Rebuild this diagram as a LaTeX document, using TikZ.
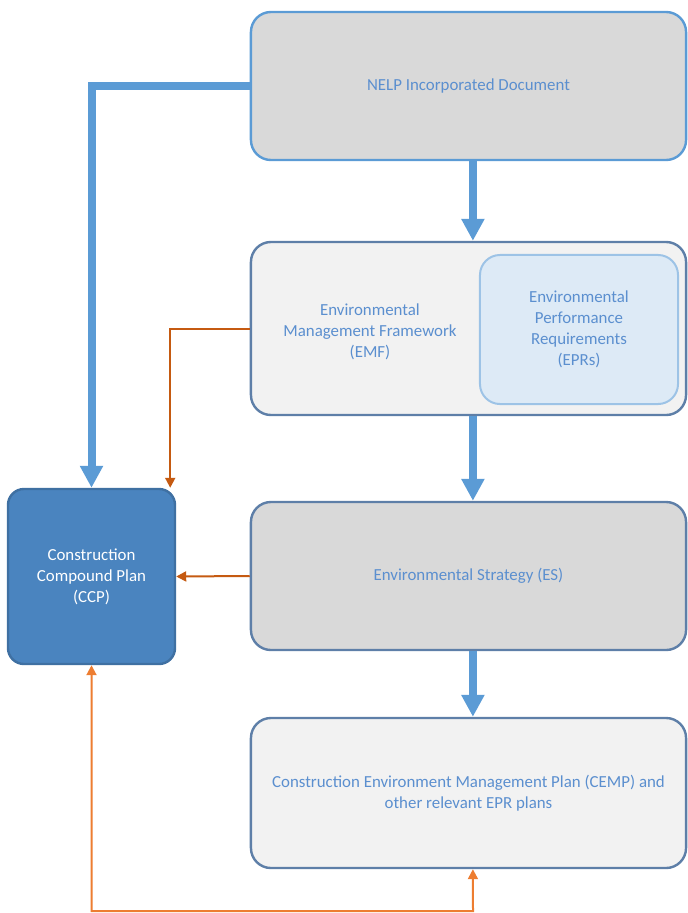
\documentclass[tikz,border=0pt]{standalone}
\usepackage{fontspec}
\setmainfont{Carlito}
\usepackage{xcolor}
\usetikzlibrary{arrows.meta,calc}
\definecolor{flowblue}{HTML}{5B9BD5}
\definecolor{textblue}{HTML}{5B8FCF}
\definecolor{edgeblue}{HTML}{5E7FA8}
\definecolor{ccpblue}{HTML}{4A84BF}
\definecolor{eprfill}{HTML}{DDEAF6}
\definecolor{eprline}{HTML}{9DC3E6}
\definecolor{darkorange}{HTML}{C55A11}
\definecolor{lightorange}{HTML}{ED7D31}
\tikzset{
  stage/.style={
    draw=edgeblue,
    line width=0.06cm,
    rounded corners=0.5cm,
    minimum width=10.875cm,
    align=center,
    text=textblue,
    font=\fontsize{12}{15}\selectfont
  },
  darkstage/.style={
    stage,
    fill=black!15
  },
  lightstage/.style={
    stage,
    fill=black!5
  },
  ccpbox/.style={
    draw=ccpblue!85!black,
    line width=0.06cm,
    fill=ccpblue,
    rounded corners=0.4cm,
    minimum width=4.175cm,
    minimum height=4.375cm,
    align=center,
    text=white,
    font=\fontsize{12}{15}\selectfont
  },
  bigflow/.style={
    draw=flowblue,
    line width=0.2cm,
    -{Triangle[width=0.55cm,length=0.55cm]}
  },
  feed/.style={
    draw=darkorange,
    line width=0.05cm,
    -{Triangle[width=0.25cm,length=0.25cm]}
  },
  feedlight/.style={
    draw=lightorange,
    line width=0.05cm
  }
}
\begin{document}
\begin{tikzpicture}[x=0.025cm,y=-0.025cm]
  \useasboundingbox (0,0) rectangle (687,913);
  % stages
  \node[darkstage, draw=flowblue, minimum height=3.7cm] (nelp) at (468.5,86) {NELP Incorporated Document};
  \node[lightstage, minimum height=4.325cm] (emf) at (468.5,328.5) {};
  \node[align=center, text=textblue, font=\fontsize{12}{15}\selectfont] (emftext) at (370,332)
    {Environmental\\Management Framework\\(EMF)};
  \node[draw=eprline, line width=0.05cm, fill=eprfill, rounded corners=0.5cm,
    minimum width=4.95cm, minimum height=3.725cm, align=center, text=textblue,
    font=\fontsize{12}{15}\selectfont] (epr) at (579,329.5)
    {Environmental\\Performance\\Requirements\\(EPRs)};
  \node[darkstage, minimum height=3.7cm] (es) at (468.5,576) {Environmental Strategy (ES)};
  \node[lightstage, minimum height=3.75cm] (cemp) at (468.5,793)
    {Construction Environment Management Plan (CEMP) and\\other relevant EPR plans};
  \node[ccpbox] (ccp) at (91.5,576.5) {Construction\\Compound Plan\\(CCP)};
  % main flow
  \draw[bigflow] ([xshift=0.11cm]nelp.south) -- ([xshift=0.11cm]emf.north);
  \draw[bigflow] ([xshift=0.11cm]emf.south) -- ([xshift=0.11cm]es.north);
  \draw[bigflow] ([xshift=0.11cm]es.south) -- ([xshift=0.11cm]cemp.north);
  \draw[bigflow] (nelp.west) -| (ccp.north);
  % feeds into the CCP
  \draw[feed] (emf.west) -| ([xshift=-0.15cm]ccp.north east);
  \draw[feed] (es.west) -- (ccp.east);
  \coordinate (loop) at (473,911);
  \draw[feedlight, {Triangle[width=0.25cm,length=0.25cm]}-{Triangle[width=0.25cm,length=0.25cm]}]
    (ccp.south) |- (loop) -- ([xshift=0.11cm]cemp.south);
\end{tikzpicture}
\end{document}
